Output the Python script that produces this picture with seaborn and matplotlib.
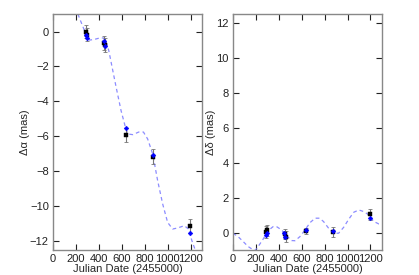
import numpy as np
import pandas as pd
import matplotlib
matplotlib.use("Agg")
import matplotlib.pyplot as plt
import seaborn as sns

# --- Delta alpha (left panel) ---
ra_curve_day = [217, 246, 275, 290, 319, 362, 406, 449, 470, 487, 516, 551, 594, 632,
                652, 696, 748, 789, 826, 870, 913, 957, 1000, 1044, 1087, 1145, 1183, 1212, 1241]
ra_curve_val = [1.0, 0.52, 0.05, -0.24, -0.49, -0.45, -0.37, -0.37, -0.72, -1.10, -2.05, -3.19,
                -4.53, -5.48, -5.86, -5.90, -5.75, -5.75, -6.15, -7.01, -8.53, -9.87, -10.92,
                -11.30, -11.24, -11.11, -11.30, -11.97, -12.5]
ra_obs_day = [287, 299, 449, 458, 638, 873, 1194]
ra_obs_val = [0.0, -0.17, -0.66, -0.75, -5.94, -7.16, -11.15]
ra_obs_err = [0.38, 0.38, 0.4, 0.4, 0.4, 0.42, 0.4]
ra_mod_day = [290, 299, 449, 458, 638, 873, 1194]
ra_mod_val = [-0.22, -0.37, -0.56, -0.81, -5.52, -7.05, -11.53]

# --- Delta delta (right panel) ---
de_curve_day = [0, 44, 88, 132, 176, 195, 220, 263, 307, 351, 380, 424, 468, 512, 541, 585,
                629, 673, 717, 755, 790, 834, 878, 922, 966, 1010, 1054, 1098, 1141, 1185,
                1229, 1273, 1308]
de_curve_val = [-0.04, -0.23, -0.51, -0.80, -0.99, -1.02, -0.80, -0.38, 0.11, 0.34, 0.34, 0.15,
                -0.19, -0.46, -0.47, -0.23, 0.15, 0.57, 0.82, 0.82, 0.63, 0.25, -0.04, -0.04,
                0.30, 0.76, 1.16, 1.29, 1.20, 1.01, 0.63, 0.49, 0.49]
de_obs_day = [287, 297, 452, 460, 638, 872, 1198]
de_obs_val = [0.02, 0.12, -0.08, -0.23, 0.09, 0.02, 1.04]
de_obs_err = [0.35, 0.3, 0.3, 0.3, 0.15, 0.3, 0.3]
de_mod_day = [284, 293, 448, 458, 638, 872, 1198]
de_mod_val = [-0.13, -0.02, 0.0, -0.25, 0.15, 0.06, 0.82]

sns.set_theme(style="white")
plt.rcParams['font.family'] = ['Liberation Sans', 'DejaVu Sans']
plt.rcParams['font.size'] = 8

fig = plt.figure(figsize=(4.19, 2.75), dpi=100)
ax1 = fig.add_axes([0.1265, 0.0909, 0.3556, 0.858])
ax2 = fig.add_axes([0.556, 0.0909, 0.3556, 0.858])

panels = [
    (ax1, ra_curve_day, ra_curve_val, ra_obs_day, ra_obs_val, ra_obs_err, ra_mod_day, ra_mod_val,
     (-12.5, 1.0), [-12, -10, -8, -6, -4, -2, 0], "Δα (mas)"),
    (ax2, de_curve_day, de_curve_val, de_obs_day, de_obs_val, de_obs_err, de_mod_day, de_mod_val,
     (-1.0, 12.5), [0, 2, 4, 6, 8, 10, 12], "Δδ (mas)"),
]

for ax, cd, cv, od, ov, oe, md, mv, ylim, yticks, ylab in panels:
    curve = pd.DataFrame({'day': cd, 'val': cv})
    sns.lineplot(data=curve, x='day', y='val', ax=ax, color='#6f6fff', lw=0.9,
                 linestyle=(0, (3, 2.5)), alpha=0.8)
    ax.errorbar(od, ov, yerr=oe, fmt='none', ecolor='#777777', elinewidth=0.8,
                capsize=1.5, capthick=0.6)
    obs = pd.DataFrame({'day': od, 'val': ov})
    sns.scatterplot(data=obs, x='day', y='val', ax=ax, marker='s', color='black',
                    s=12, edgecolor='black', linewidth=0.3, zorder=3)
    mod = pd.DataFrame({'day': md, 'val': mv})
    sns.scatterplot(data=mod, x='day', y='val', ax=ax, marker='D', color='#0000ff',
                    s=6, edgecolor='#0000ff', linewidth=0.3, zorder=4)

    ax.set_xlim(0, 1300)
    ax.set_ylim(*ylim)
    ax.set_xticks([0, 200, 400, 600, 800, 1000, 1200])
    ax.set_yticks(yticks)
    ax.set_xlabel("Julian Date (2455000)", fontsize=8, labelpad=0)
    ax.set_ylabel(ylab, fontsize=8, labelpad=0)
    ax.tick_params(direction='in', length=4, width=0.8, colors='#222222', labelsize=8,
                   top=True, right=True, bottom=True, left=True, pad=3)
    for sp in ax.spines.values():
        sp.set_color('#888888')
        sp.set_linewidth(1.0)

fig.savefig("out.png", dpi=100)
